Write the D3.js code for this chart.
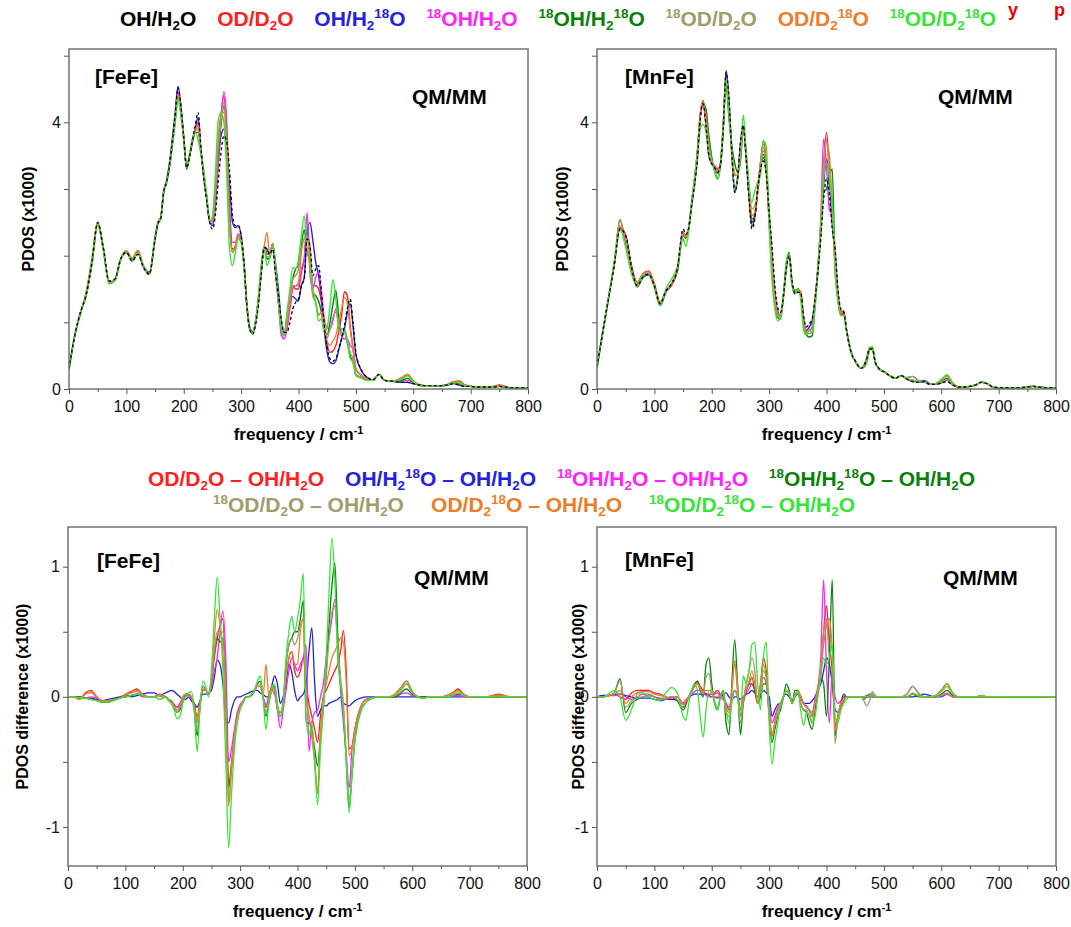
<!DOCTYPE html>
<html>
<head>
<meta charset="utf-8">
<script src="https://cdn.jsdelivr.net/npm/d3@7"></script>
<style>
body { margin: 0; background: #fff; }
text { font-family: "Liberation Sans", Arial, sans-serif; }
.tick text { font-size: 16px; fill: #111; }
.tick line { stroke: #555; }
.domain { display: none; }
</style>
</head>
<body>
<svg width="1071" height="927"></svg>
<script>
// frequency grid (cm-1)
var freq = [0, 10, 20, 30, 40, 50, 60, 70, 80, 90, 100, 110, 120, 130, 140,
    150, 155, 160, 165, 170, 175, 180, 185, 190, 195,
    200, 205, 210, 215, 220, 225, 230, 235, 240, 245,
    250, 255, 260, 265, 270, 275, 280, 285, 290, 295,
    300, 305, 310, 315, 320, 325, 330, 335, 340, 345,
    350, 355, 360, 365, 370, 375, 380, 385, 390, 395,
    400, 405, 410, 415, 420, 425, 430, 435, 440, 445,
    450, 455, 460, 465, 470, 475, 480, 485, 490, 495,
    500,
    510, 520, 530, 540, 550, 560, 570, 580, 590, 600, 610, 620, 630, 640, 650,
    660, 670, 680, 690, 700, 710, 720, 730, 740, 750, 760, 770, 780, 790, 800];

var seriesNames = ["OH/H_2O", "OD/D_2O", "OH/H_2^18O", "^18OH/H_2O", "^18OH/H_2^18O",
    "^18OD/D_2O", "OD/D_2^18O", "^18OD/D_2^18O"];
var seriesColors = ["#000000", "#ff1f1f", "#2222e0", "#ff22ff", "#0b7f0b",
    "#a19c6c", "#ee7d2b", "#38e438"];

// [FeFe] PDOS of OH/H2O (x1000)
var fefeOH = [0.30, 0.80, 1.15, 1.42, 1.90, 2.50, 2.12, 1.62, 1.65, 1.95, 2.05, 1.92, 2.02, 1.82, 1.72,
    2.25, 2.48, 2.56, 2.95, 3.10, 3.35, 3.70, 4.10, 4.52, 4.25,
    3.78, 3.32, 3.48, 3.72, 3.95, 4.15, 3.62, 3.15, 2.82, 2.50,
    2.40, 2.60, 3.10, 3.55, 3.80, 3.70, 3.25, 2.60, 2.45, 2.45,
    2.30, 1.90, 1.25, 0.90, 0.82, 0.95, 1.25, 1.70, 2.12, 2.10,
    2.02, 2.10, 1.72, 1.40, 1.05, 0.85, 0.85, 1.00, 1.20, 1.30,
    1.35, 1.55, 1.65, 2.25, 2.15, 1.70, 1.80, 1.85, 1.45, 0.95,
    0.62, 0.45, 0.42, 0.45, 0.60, 0.75, 0.95, 1.20, 1.35, 1.00,
    0.55,
    0.28, 0.17, 0.14, 0.22, 0.13, 0.12, 0.11, 0.10, 0.10, 0.08, 0.06, 0.05, 0.05, 0.05, 0.05,
    0.06, 0.08, 0.06, 0.04, 0.04, 0.03, 0.03, 0.03, 0.03, 0.04, 0.03, 0.02, 0.02, 0.02, 0.02];

// [FeFe] differences to OH/H2O (x1000)
var fefeDiffOD = [0, 0, -0.02, 0.03, 0.05, 0.00, -0.03, -0.03, -0.02, -0.01, 0.02, 0.04, 0.06, 0.02, 0.00,
    0.00, 0.01, 0.02, 0.01, 0.00, -0.02, -0.03, -0.06, -0.08, -0.06,
    0.00, 0.02, 0.02, 0.00, -0.05, -0.15, -0.05, 0.05, 0.05, 0.02,
    0.12, 0.30, 0.45, 0.55, 0.60, 0.00, -0.68, -0.50, -0.30, -0.15,
    -0.08, -0.04, 0.00, 0.00, 0.01, 0.05, 0.08, 0.08, 0.00, -0.08,
    0.00, 0.08, 0.05, -0.08, -0.12, -0.05, 0.15, 0.30, 0.35, 0.20,
    0.15, 0.20, 0.30, 0.10, -0.05, -0.15, -0.25, -0.35, -0.15, 0.00,
    0.05, 0.10, 0.15, 0.20, 0.25, 0.35, 0.51, 0.20, -0.40, -0.38,
    -0.25,
    -0.08, -0.02, -0.01, 0, 0, 0, 0.02, 0.07, 0.12, 0.04, 0, -0.01, 0, 0, 0,
    0.01, 0.03, 0.06, 0.02, 0, 0, 0, 0, 0.01, 0.02, 0.01, 0, 0, 0, 0];
var fefeDiffOH18w = [0, 0, 0, -0.01, -0.01, -0.02, -0.03, -0.02, -0.01, 0.00, 0.01, 0.00, 0.01, 0.02, 0.03,
    0.03, 0.02, 0.01, 0.02, 0.03, 0.04, 0.05, 0.04, 0.02, 0.00,
    -0.02, -0.02, 0.00, -0.03, -0.05, -0.08, -0.03, 0.02, 0.02, 0.03,
    0.05, 0.15, 0.28, 0.25, 0.10, -0.15, -0.20, -0.10, -0.03, 0.00,
    0.00, 0.01, 0.02, 0.03, 0.04, 0.05, 0.05, 0.03, 0.02, 0.00,
    0.00, 0.08, 0.16, 0.10, -0.05, 0.00, 0.10, 0.25, 0.19, 0.05,
    -0.03, 0.00, 0.02, 0.10, 0.35, 0.53, 0.10, -0.15, -0.10, -0.07,
    -0.07, -0.05, -0.04, -0.03, -0.02, 0.00, -0.05, -0.06, -0.07, -0.05,
    -0.03,
    -0.01, 0, 0, 0, 0, 0, 0, 0, 0, 0, 0, 0, 0, 0, 0,
    0, 0, 0, 0, 0, 0, 0, 0, 0, 0, 0, 0, 0, 0, 0];
var fefeDiff18OH = [0, 0, 0, -0.01, 0.00, -0.01, -0.03, -0.03, -0.02, -0.01, 0.00, 0.01, 0.02, 0.00, 0.00,
    0.00, 0.01, 0.01, 0.00, 0.00, -0.02, -0.04, -0.06, -0.08, -0.05,
    -0.01, 0.01, 0.01, -0.01, -0.08, -0.20, -0.05, 0.05, 0.05, 0.02,
    0.08, 0.20, 0.30, 0.50, 0.66, 0.30, -0.50, -0.40, -0.25, -0.12,
    -0.06, -0.03, 0.00, 0.00, 0.01, 0.04, 0.08, 0.08, 0.00, -0.06,
    0.00, 0.05, 0.02, -0.10, -0.24, -0.10, 0.05, 0.20, 0.30, 0.25,
    0.20, 0.25, 0.30, 0.40, -0.42, -0.20, -0.12, -0.10, 0.00, 0.10,
    0.30, 0.45, 0.60, 0.75, 0.40, 0.05, -0.20, -0.45, -0.70, -0.40,
    -0.25,
    -0.08, -0.02, -0.01, 0, 0, 0, 0, 0.02, 0.03, 0.01, 0, 0, 0, 0, 0,
    0, 0.01, 0.01, 0, 0, 0, 0, 0, 0, 0, 0, 0, 0, 0, 0];
var fefeDiff18OH18w = [0, 0, 0, -0.01, -0.02, -0.03, -0.04, -0.04, -0.02, -0.01, 0.00, 0.01, 0.02, 0.01, 0.00,
    0.00, 0.01, 0.01, 0.00, 0.00, -0.02, -0.04, -0.08, -0.12, -0.10,
    -0.03, 0.01, 0.02, 0.00, -0.10, -0.30, -0.08, 0.08, 0.06, 0.02,
    0.12, 0.35, 0.45, 0.42, 0.45, 0.10, -0.70, -0.55, -0.32, -0.16,
    -0.08, -0.04, 0.00, 0.00, 0.02, 0.05, 0.10, 0.12, 0.00, -0.15,
    -0.05, 0.05, 0.08, -0.08, -0.15, -0.05, 0.25, 0.40, 0.45, 0.50,
    0.50, 0.60, 0.74, -0.20, -0.20, -0.25, -0.40, -0.53, -0.30, -0.08,
    0.20, 0.55, 0.85, 1.03, 0.50, 0.10, -0.10, -0.50, -0.85, -0.60,
    -0.33,
    -0.11, -0.04, -0.01, 0, 0, 0, 0, 0.03, 0.06, 0.02, 0, 0, 0, 0, 0,
    0, 0.01, 0.02, 0.01, 0, 0, 0, 0, 0, 0, 0, 0, 0, 0, 0];
var fefeDiff18OD = [0, 0, -0.01, 0.02, 0.03, 0.00, -0.03, -0.03, -0.02, -0.01, 0.01, 0.03, 0.04, 0.01, 0.00,
    0.00, 0.01, 0.01, 0.00, 0.00, -0.03, -0.05, -0.08, -0.12, -0.08,
    -0.02, 0.02, 0.02, 0.00, -0.08, -0.25, -0.06, 0.08, 0.06, 0.02,
    0.12, 0.35, 0.50, 0.48, 0.50, 0.05, -0.80, -0.55, -0.32, -0.16,
    -0.08, -0.04, 0.00, 0.00, 0.02, 0.05, 0.10, 0.10, 0.00, -0.12,
    -0.02, 0.08, 0.06, -0.10, -0.15, -0.05, 0.25, 0.40, 0.45, 0.40,
    0.45, 0.55, 0.60, 0.00, -0.15, -0.30, -0.50, -0.74, -0.30, -0.05,
    0.15, 0.45, 0.65, 0.70, 0.40, 0.15, -0.05, -0.45, -0.80, -0.55,
    -0.33,
    -0.11, -0.04, -0.01, 0, 0, 0, 0.01, 0.05, 0.10, 0.03, 0, -0.01, 0, 0, 0,
    0.01, 0.02, 0.04, 0.01, 0, 0, 0, 0, 0, 0.01, 0, 0, 0, 0, 0];
var fefeDiffOD18w = [0, 0, -0.02, 0.02, 0.04, 0.00, -0.03, -0.03, -0.02, -0.01, 0.02, 0.03, 0.05, 0.02, 0.00,
    0.00, 0.01, 0.02, 0.01, 0.00, -0.02, -0.04, -0.07, -0.10, -0.07,
    0.00, 0.02, 0.02, 0.00, -0.06, -0.18, -0.05, 0.06, 0.05, 0.02,
    0.15, 0.45, 0.67, 0.55, 0.35, -0.20, -0.84, -0.55, -0.30, -0.15,
    -0.08, -0.04, 0.00, 0.00, 0.02, 0.05, 0.08, 0.08, 0.00, 0.25,
    0.00, 0.08, 0.05, -0.08, -0.12, -0.05, 0.15, 0.30, 0.35, 0.25,
    0.25, 0.50, 0.60, 0.00, -0.15, -0.30, -0.50, -0.74, -0.30, 0.00,
    0.10, 0.20, 0.30, 0.35, 0.40, 0.45, 0.42, 0.10, -0.45, -0.40,
    -0.25,
    -0.08, -0.02, -0.01, 0, 0, 0, 0.02, 0.07, 0.12, 0.04, 0, -0.01, 0, 0, 0,
    0.01, 0.03, 0.05, 0.02, 0, 0, 0, 0, 0.01, 0.01, 0.01, 0, 0, 0, 0];
var fefeDiff18OD18w = [0, 0, -0.01, -0.01, -0.02, -0.03, -0.04, -0.04, -0.03, -0.01, 0.00, 0.01, 0.02, 0.01, 0.00,
    0.00, -0.01, -0.02, -0.01, 0.00, -0.02, -0.05, -0.10, -0.17, -0.15,
    -0.05, 0.00, 0.03, 0.04, -0.10, -0.42, -0.10, 0.12, 0.08, 0.00,
    0.20, 0.60, 0.92, 0.60, 0.20, -0.50, -1.16, -0.75, -0.40, -0.20,
    -0.10, -0.05, 0.00, 0.00, 0.02, 0.05, 0.12, 0.16, 0.00, -0.25,
    -0.05, 0.05, 0.10, -0.05, -0.15, -0.05, 0.30, 0.50, 0.62, 0.50,
    0.60, 0.75, 0.95, -0.15, -0.30, -0.20, -0.50, -0.83, -0.40, -0.10,
    0.30, 0.80, 1.22, 0.90, 0.30, 0.10, -0.10, -0.50, -0.89, -0.60,
    -0.35,
    -0.12, -0.04, -0.01, 0, 0, 0, 0.01, 0.05, 0.10, 0.03, 0, -0.01, 0, 0, 0,
    0, 0.01, 0.03, 0.01, 0, 0, 0, 0, 0, 0, 0, 0, 0, 0, 0];

// [MnFe] PDOS of OH/H2O (x1000)
var mnfeOH = [0.33, 0.85, 1.35, 1.85, 2.40, 2.30, 1.83, 1.55, 1.68, 1.72, 1.55, 1.28, 1.47, 1.58, 1.80,
    2.40, 2.32, 2.42, 2.75, 3.05, 3.45, 4.05, 4.28, 3.95, 3.50,
    3.38, 3.32, 3.25, 3.35, 3.90, 4.75, 4.35, 3.55, 2.95, 3.15,
    3.70, 3.95, 3.45, 2.85, 2.40, 2.55, 3.00, 3.30, 3.42, 3.22,
    2.65, 2.15, 1.55, 1.22, 1.15, 1.40, 1.80, 2.00, 1.62, 1.43,
    1.45, 1.45, 1.10, 0.93, 0.98, 1.05, 1.35, 1.75, 2.25, 2.85,
    3.15, 2.90, 2.40, 2.10, 1.50, 1.20, 1.15, 0.88, 0.65, 0.50,
    0.42, 0.35, 0.31, 0.35, 0.45, 0.60, 0.60, 0.40, 0.32, 0.28,
    0.26,
    0.20, 0.16, 0.20, 0.15, 0.11, 0.10, 0.11, 0.07, 0.07, 0.09, 0.11, 0.06, 0.03, 0.03, 0.04,
    0.06, 0.10, 0.08, 0.03, 0.02, 0.02, 0.02, 0.02, 0.02, 0.03, 0.04, 0.03, 0.02, 0.02, 0.02];

// [MnFe] differences to OH/H2O (x1000)
var mnfeDiffOD = [0, 0, 0.01, 0.02, 0.00, -0.02, 0.03, 0.05, 0.05, 0.05, 0.03, 0.02, 0.00, -0.02, 0.00,
    -0.05, -0.03, 0.00, 0.04, 0.08, 0.12, 0.08, 0.05, 0.02, 0.02,
    0.02, 0.03, 0.05, 0.02, 0.00, -0.05, -0.10, -0.02, 0.05, 0.02,
    -0.10, -0.02, 0.05, 0.10, 0.15, 0.05, -0.05, 0.10, 0.30, 0.20,
    -0.10, -0.30, -0.20, -0.10, -0.05, 0.00, 0.05, 0.02, -0.05, 0.00,
    0.05, 0.00, -0.05, -0.08, -0.10, -0.15, -0.05, 0.05, 0.20, 0.50,
    0.70, 0.40, 0.20, -0.22, -0.15, -0.08, -0.03, 0.00, 0.00, 0.00,
    0.00, 0.00, 0.00, 0.00, 0.00, 0.01, 0.02, 0.00, 0.00, 0.00,
    0.00,
    0, 0, 0, 0, 0.02, 0.01, 0, 0, 0.01, 0.05, 0.10, 0.03, 0, 0, 0,
    0, 0.01, 0, 0, 0, 0, 0, 0, 0, 0, 0, 0, 0, 0, 0];
var mnfeDiffOH18w = [0, 0.01, 0.01, 0.02, 0.02, 0.01, 0.00, -0.01, -0.01, -0.01, -0.02, -0.03, -0.02, -0.02, -0.03,
    -0.08, -0.04, 0.00, 0.01, 0.02, 0.02, 0.02, 0.02, 0.02, 0.01,
    0.00, 0.00, -0.01, 0.00, 0.02, 0.03, 0.00, -0.02, 0.00, 0.00,
    -0.02, 0.00, 0.02, 0.03, 0.05, 0.03, 0.00, 0.02, 0.05, 0.03,
    0.00, -0.15, -0.10, -0.06, -0.05, 0.00, 0.02, 0.00, -0.03, 0.00,
    0.02, 0.00, -0.05, -0.05, -0.05, -0.03, 0.00, 0.05, 0.10, 0.20,
    0.30, 0.25, 0.10, -0.10, -0.12, -0.05, 0.02, 0.00, 0.00, 0.00,
    0.00, 0.00, 0.00, 0.00, 0.00, 0.00, 0.00, 0.00, 0.00, 0.00,
    0.00,
    0, 0, 0, 0, 0, 0.01, 0.02, 0.01, 0, 0, 0.02, 0, 0, 0, 0,
    0, 0, 0, 0, 0, 0, 0, 0, 0, 0, 0, 0, 0, 0, 0];
var mnfeDiff18OH = [0, 0, 0.01, 0.01, 0.02, 0.00, -0.02, 0.00, 0.02, 0.02, 0.00, -0.01, -0.02, 0.00, 0.00,
    -0.05, -0.02, 0.00, 0.02, 0.04, 0.05, 0.05, 0.03, 0.01, 0.00,
    0.00, 0.02, 0.03, 0.00, -0.02, -0.05, -0.08, 0.00, 0.05, 0.00,
    -0.10, -0.03, 0.03, 0.06, 0.10, 0.05, 0.00, 0.08, 0.15, 0.10,
    -0.05, -0.20, -0.15, -0.08, -0.05, 0.00, 0.05, 0.02, -0.03, 0.00,
    0.03, 0.00, -0.05, -0.07, -0.10, -0.12, -0.02, 0.08, 0.30, 0.90,
    0.20, -0.20, 0.20, 0.00, -0.05, -0.03, 0.00, 0.00, 0.00, 0.00,
    0.00, 0.00, 0.00, 0.00, 0.01, 0.01, 0.00, 0.00, 0.00, 0.00,
    0.00,
    0, 0, 0, 0.02, 0.08, 0.03, 0, 0, 0, 0.01, 0.02, 0, 0, 0, 0,
    0, 0, 0, 0, 0, 0, 0, 0, 0, 0, 0, 0, 0, 0, 0];
var mnfeDiff18OH18w = [0, 0, 0.01, 0.03, 0.14, -0.12, -0.05, -0.02, 0.00, 0.01, 0.00, -0.02, -0.01, 0.00, -0.03,
    -0.10, -0.06, 0.00, 0.05, 0.10, 0.12, 0.05, 0.00, 0.25, 0.30,
    0.10, -0.05, -0.10, 0.00, 0.05, -0.20, -0.29, 0.10, 0.44, 0.10,
    -0.29, -0.05, 0.05, 0.10, 0.10, 0.05, -0.05, 0.00, 0.10, 0.10,
    -0.15, -0.35, -0.25, -0.15, -0.10, 0.00, 0.10, 0.05, -0.05, 0.05,
    0.05, -0.05, -0.10, -0.12, -0.20, -0.25, -0.10, 0.05, 0.15, 0.10,
    -0.15, 0.30, 0.90, -0.30, -0.15, -0.05, 0.00, 0.00, 0.00, 0.00,
    0.00, 0.00, 0.00, -0.02, 0.00, 0.02, 0.02, 0.00, 0.00, 0.00,
    0.00,
    0, 0, 0, 0, 0.02, 0, 0, 0, 0, 0.02, 0.05, 0.01, 0, 0, 0,
    0, 0, 0, 0, 0, 0, 0, 0, 0, 0, 0, 0, 0, 0, 0];
var mnfeDiff18OD = [0, 0, 0.01, 0.03, 0.12, -0.08, -0.03, -0.01, 0.00, 0.01, 0.00, -0.02, -0.01, 0.00, -0.02,
    -0.08, -0.04, 0.00, 0.04, 0.08, 0.10, 0.06, 0.02, 0.15, 0.18,
    0.05, -0.03, -0.08, 0.00, 0.03, -0.12, -0.15, 0.05, 0.25, 0.05,
    -0.20, -0.03, 0.10, 0.20, 0.30, 0.20, -0.05, 0.05, 0.20, 0.15,
    -0.12, -0.30, -0.22, -0.12, -0.08, 0.00, 0.05, 0.03, -0.05, 0.02,
    0.03, -0.05, -0.10, -0.10, -0.15, -0.20, -0.05, 0.05, 0.20, 0.50,
    0.60, 0.30, 0.30, -0.36, -0.15, -0.05, -0.02, 0.00, 0.00, 0.00,
    0.00, 0.00, 0.00, -0.03, -0.07, -0.03, 0.04, 0.01, 0.00, 0.00,
    0.00,
    0, 0, 0, 0.02, 0.08, 0.03, 0, 0, 0, 0.01, 0.03, 0, 0, 0, 0,
    0, 0, 0, 0, 0, 0, 0, 0, 0, 0, 0, 0, 0, 0, 0];
var mnfeDiffOD18w = [0, 0, 0.01, 0.02, 0.05, -0.05, 0.00, 0.03, 0.04, 0.04, 0.02, 0.01, 0.00, -0.01, 0.00,
    -0.06, -0.03, 0.00, 0.04, 0.08, 0.10, 0.07, 0.04, 0.05, 0.05,
    0.03, 0.00, 0.00, 0.02, 0.03, -0.08, -0.12, 0.05, 0.28, 0.05,
    -0.15, -0.02, 0.05, 0.12, 0.20, 0.10, -0.05, 0.10, 0.25, 0.15,
    -0.10, -0.30, -0.20, -0.10, -0.05, 0.00, 0.05, 0.02, -0.05, 0.00,
    0.05, 0.00, -0.05, -0.08, -0.10, -0.15, -0.05, 0.05, 0.20, 0.40,
    0.55, 0.60, 0.35, -0.25, -0.15, -0.06, -0.02, 0.00, 0.00, 0.00,
    0.00, 0.00, 0.00, 0.00, 0.00, 0.01, 0.01, 0.00, 0.00, 0.00,
    0.00,
    0, 0, 0, 0, 0.02, 0.01, 0, 0, 0.01, 0.04, 0.08, 0.02, 0, 0, 0,
    0, 0, 0, 0, 0, 0, 0, 0, 0, 0, 0, 0, 0, 0, 0];
var mnfeDiff18OD18w = [0, 0, 0.02, 0.05, 0.00, -0.18, -0.10, 0.02, 0.03, 0.00, -0.02, -0.03, 0.03, 0.07, 0.03,
    -0.15, -0.18, -0.05, 0.05, 0.10, 0.05, -0.15, -0.31, -0.10, 0.05,
    0.05, -0.05, -0.10, 0.00, 0.05, -0.10, -0.20, -0.05, 0.05, 0.00,
    -0.15, 0.16, 0.10, 0.20, 0.40, 0.42, 0.10, -0.10, 0.30, 0.42,
    -0.20, -0.52, -0.35, -0.20, -0.05, 0.00, 0.05, 0.03, -0.05, 0.00,
    0.05, -0.10, -0.22, -0.12, -0.10, -0.20, -0.15, 0.00, 0.15, 0.30,
    0.25, 0.30, 0.40, -0.15, -0.20, -0.10, -0.05, -0.02, 0.00, 0.00,
    0.00, 0.00, 0.00, 0.00, 0.00, 0.01, 0.02, 0.00, 0.00, 0.00,
    0.00,
    0, 0, 0, 0, 0.03, 0.01, 0, 0, 0.01, 0.05, 0.10, 0.03, 0, 0, 0,
    0, 0.01, 0, 0, 0, 0, 0, 0, 0, 0, 0, 0, 0, 0, 0];

var fefeDiffs = [fefeDiffOD, fefeDiffOH18w, fefeDiff18OH, fefeDiff18OH18w, fefeDiff18OD, fefeDiffOD18w, fefeDiff18OD18w];
var mnfeDiffs = [mnfeDiffOD, mnfeDiffOH18w, mnfeDiff18OH, mnfeDiff18OH18w, mnfeDiff18OD, mnfeDiffOD18w, mnfeDiff18OD18w];

var xMajor = [0, 100, 200, 300, 400, 500, 600, 700, 800],
    xMinor = [50, 150, 250, 350, 450, 550, 650, 750];

var svg = d3.select("svg");

// write a formula-like label: ^18 = superscript, _2 = subscript
function chem(text, str, size) {
    var parts = str.split(/(\^-?\d+|_\d+)/),
        shift = 0;
    parts.forEach(p => {
        if (!p) return;
        var want = 0, s = p, fs = size;
        if (p[0] == "^") { want = -size * 0.38; s = p.slice(1); fs = size * 0.64; }
        else if (p[0] == "_") { want = size * 0.2; s = p.slice(1); fs = size * 0.64; }
        text.append("tspan")
            .attr("dy", want - shift)
            .attr("font-size", fs)
            .text(s);
        shift = want;
    });
    return text;
}

function drawPanel(p, idx) {
    var x = d3.scaleLinear().domain([0, 800]).range([p.left, p.right]),
        y = d3.scaleLinear().domain(p.yDomain).range([p.bottom, p.top]);
    var g = svg.append("g");

    g.append("clipPath").attr("id", "clip" + idx)
        .append("rect")
        .attr("x", p.left).attr("y", p.top)
        .attr("width", p.right - p.left).attr("height", p.bottom - p.top);

    var line = d3.line()
        .x((d, i) => x(freq[i]))
        .y(d => y(d))
        .curve(d3.curveMonotoneX);

    var gl = g.append("g").attr("clip-path", "url(#clip" + idx + ")");
    p.lines.forEach(l => {
        gl.append("path")
            .attr("d", line(l.values))
            .attr("fill", "none")
            .attr("stroke", l.color)
            .attr("stroke-width", l.width || 1.4)
            .attr("stroke-dasharray", l.dash || null)
            .attr("stroke-linejoin", "round");
    });

    g.append("rect")
        .attr("x", p.left).attr("y", p.top)
        .attr("width", p.right - p.left).attr("height", p.bottom - p.top)
        .attr("fill", "none").attr("stroke", "#6a6a6a").attr("stroke-width", 1.4);

    g.append("g").attr("transform", "translate(0," + p.bottom + ")")
        .call(d3.axisBottom(x).tickValues(xMajor).tickSize(5).tickPadding(7));
    g.append("g").attr("transform", "translate(0," + p.bottom + ")")
        .call(d3.axisBottom(x).tickValues(xMinor).tickSize(3).tickFormat(""));
    g.append("g").attr("transform", "translate(" + p.left + ",0)")
        .call(d3.axisLeft(y).tickValues(p.yTicks).tickSize(5).tickPadding(3)
            .tickFormat(d => p.yLabels.indexOf(d) >= 0 ? d : ""));

    chem(g.append("text")
        .attr("x", (p.left + p.right) / 2).attr("y", p.bottom + 51)
        .attr("text-anchor", "middle")
        .attr("font-size", 17).attr("font-weight", "bold"), "frequency / cm^-1", 17);

    g.append("text")
        .attr("transform", "translate(" + p.ylabX + "," + (p.top + p.bottom) / 2 + ") rotate(-90)")
        .attr("text-anchor", "middle")
        .attr("font-size", 16).attr("font-weight", "bold")
        .text(p.ylab);

    g.append("text").attr("x", p.nameX).attr("y", p.nameY)
        .attr("font-size", 21).attr("font-weight", "bold").text(p.name);
    g.append("text").attr("x", p.qmX).attr("y", p.qmY)
        .attr("font-size", 21).attr("font-weight", "bold").text("QM/MM");
}

function topLines(base, diffs) {
    var lines = diffs.map((d, k) => ({
        values: base.map((v, i) => v + d[i]),
        color: seriesColors[k + 1]
    }));
    lines.push({ values: base, color: seriesColors[0], dash: "3,2.5", width: 1.3 });
    return lines;
}

function diffLines(diffs) {
    return diffs.map((d, k) => ({ values: d, color: seriesColors[k + 1], width: 1.3 }));
}

var panels = [
    { left: 69, right: 528, top: 49, bottom: 389, yDomain: [0, 5.1], yTicks: [0, 1, 2, 3, 4, 5], yLabels: [0, 4],
      lines: topLines(fefeOH, fefeDiffs), ylab: "PDOS (x1000)", ylabX: 34,
      name: "[FeFe]", nameX: 95, nameY: 84, qmX: 412, qmY: 104 },
    { left: 597, right: 1056, top: 49, bottom: 389, yDomain: [0, 5.1], yTicks: [0, 1, 2, 3, 4, 5], yLabels: [0, 4],
      lines: topLines(mnfeOH, mnfeDiffs), ylab: "PDOS (x1000)", ylabX: 568,
      name: "[MnFe]", nameX: 625, nameY: 84, qmX: 938, qmY: 104 },
    { left: 68, right: 527, top: 527, bottom: 866, yDomain: [-1.3, 1.305], yTicks: [-1, -0.5, 0, 0.5, 1], yLabels: [-1, 0, 1],
      lines: diffLines(fefeDiffs), ylab: "PDOS difference (x1000)", ylabX: 28,
      name: "[FeFe]", nameX: 97, nameY: 568, qmX: 414, qmY: 585 },
    { left: 597, right: 1056, top: 527, bottom: 866, yDomain: [-1.3, 1.305], yTicks: [-1, -0.5, 0, 0.5, 1], yLabels: [-1, 0, 1],
      lines: diffLines(mnfeDiffs), ylab: "PDOS difference (x1000)", ylabX: 584,
      name: "[MnFe]", nameX: 625, nameY: 567, qmX: 943, qmY: 585 }
];
panels.forEach(drawPanel);

// legends: a row of texts spread evenly between x0 and x1
function legendRow(items, colors, x0, x1, y, size) {
    var g = svg.append("g");
    var texts = items.map((s, i) => chem(g.append("text")
        .attr("y", y).attr("font-size", size).attr("font-weight", "bold")
        .attr("fill", colors[i]), s, size));
    var widths = texts.map(t => t.node().getComputedTextLength());
    var gap = (x1 - x0 - d3.sum(widths)) / (items.length - 1),
        xx = x0;
    texts.forEach((t, i) => { t.attr("x", xx); xx += widths[i] + gap; });
}

legendRow(seriesNames, seriesColors, 120, 996, 26, 21);

var diffNames = seriesNames.slice(1).map(s => s + " – OH/H_2O");
legendRow(diffNames.slice(0, 4), seriesColors.slice(1, 5), 148, 975, 486, 21);
legendRow(diffNames.slice(4), seriesColors.slice(5), 213, 855, 512, 21);

// red heading fragment near the top edge
svg.append("text").attr("x", 1008).attr("y", 16)
    .attr("font-family", "Liberation Serif").attr("font-weight", "bold")
    .attr("font-size", 18).attr("fill", "#ee0000").text("y");
svg.append("text").attr("x", 1054).attr("y", 16)
    .attr("font-family", "Liberation Serif").attr("font-weight", "bold")
    .attr("font-size", 18).attr("fill", "#ee0000").text("p");
</script>
</body>
</html>
